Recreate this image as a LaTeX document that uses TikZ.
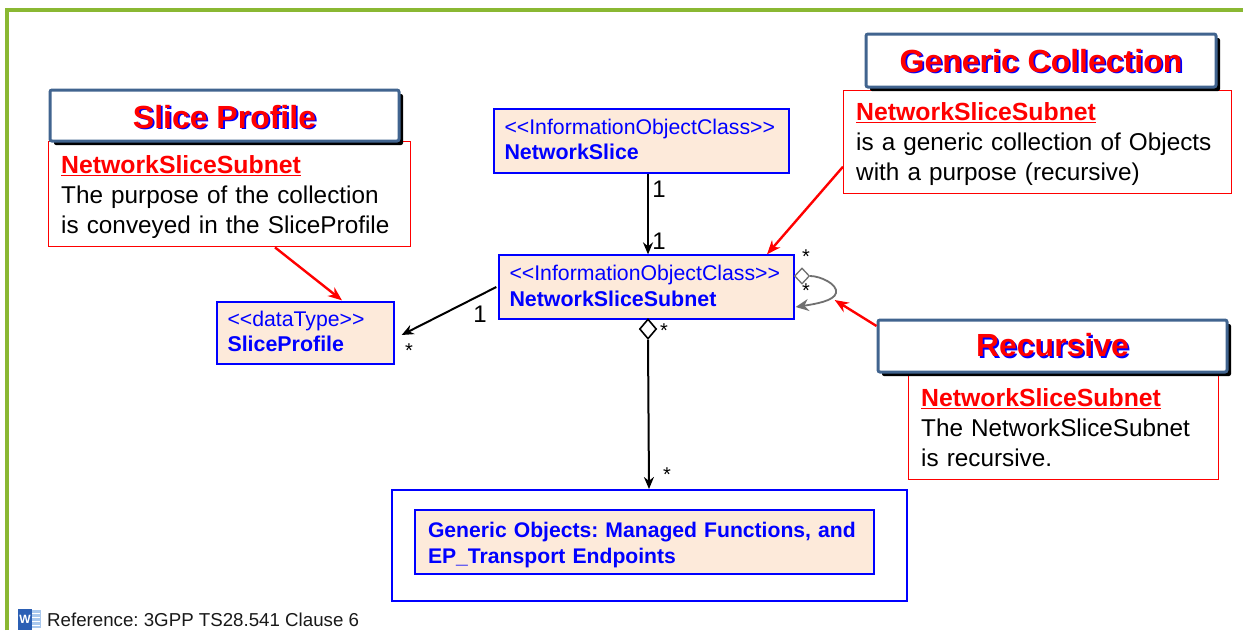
\documentclass[tikz,border=0pt]{standalone}
\usepackage{fontspec}
\setmainfont{Liberation Sans}
\usetikzlibrary{arrows.meta,shapes.geometric,shadows,calc}
\definecolor{framegreen}{HTML}{8AB832}
\definecolor{titleblue}{HTML}{41648F}
\definecolor{classfill}{HTML}{FDEADA}
\definecolor{loopgrey}{HTML}{707070}
\definecolor{wordblue}{HTML}{2B5FB4}
\definecolor{wordlight}{HTML}{A9C8EE}
\newcommand{\shadowed}[1]{\makebox[0pt][l]{\hspace{1.8pt}\raisebox{-1.8pt}{\color{blue}#1}}{\color{red}#1}}
\newcommand{\redhead}[2]{{\fontsize{24.8}{30}\selectfont\color{red}\bfseries\underline{#2}}\rule{0pt}{#1}\\}
\newcommand{\ltlt}{<{}<}
\newcommand{\gtgt}{>{}>}
\newcommand{\boldname}[2]{{\fontsize{21.4}{25.5}\selectfont\bfseries #2}\rule[-#1]{0pt}{#1}}
\tikzset{
  every node/.style={font=\fontsize{24.3}{30}\selectfont\frenchspacing},
  titlebox/.style={draw=titleblue,line width=3pt,rounded corners=2pt,fill=white,inner sep=0pt,
    drop shadow={shadow xshift=4pt,shadow yshift=-4pt,fill=black,opacity=1},
    font=\fontsize{32}{36}\selectfont\bfseries\frenchspacing},
  notebox/.style={draw=red,line width=1.4pt,fill=white,inner xsep=12.5pt,inner ysep=0pt,align=left,anchor=north west,
    font=\fontsize{24.3}{30}\selectfont\frenchspacing},
  classbox/.style={draw=blue,line width=1.3pt,fill=classfill,text=blue,inner xsep=10.5pt,inner ysep=0pt,align=left,
    font=\fontsize{21.25}{25.5}\selectfont\frenchspacing},
  assoc/.style={draw=black,line width=2pt,-{Stealth[length=12pt,width=10pt]}},
  callout/.style={draw=red,line width=2.4pt,-{Stealth[length=14pt,width=11pt]}},
  lbl/.style={inner sep=0pt,font=\fontsize{24}{26}\selectfont},
  star/.style={inner sep=0pt,font=\fontsize{20}{22}\selectfont},
  aggr/.style={diamond,draw=black,fill=white,line width=1.6pt,inner sep=0pt,minimum width=17pt,minimum height=20pt,aspect=1}
}
\begin{document}
\begin{tikzpicture}[x=1pt,y=-1pt]
\useasboundingbox (0,0) rectangle (1243,630);
\fill[white] (0,0) rectangle (1243,630);
\draw[framegreen,line width=4pt] (7,630) -- (7,10) -- (1243,10);

% notes
\node[notebox,minimum width=362pt,minimum height=105pt,text width=337pt] (noteSP) at (48,141)
  {\redhead{24pt}{NetworkSliceSubnet}The purpose of the collection\\is conveyed in the SliceProfile};
\node[notebox,minimum width=388pt,minimum height=103pt,text width=363pt] (noteGC) at (843,90)
  {\redhead{22pt}{NetworkSliceSubnet}is a generic collection of Objects\\with a purpose (recursive)};
\node[notebox,minimum width=310pt,minimum height=104pt,text width=285pt] (noteR) at (908,375)
  {\redhead{0pt}{NetworkSliceSubnet}The NetworkSliceSubnet\\is recursive.};

% titles
\node[titlebox,minimum width=349pt,minimum height=51pt,text height=27.3pt] (titleSP) at (224.5,115.5) {\shadowed{Slice Profile}};
\node[titlebox,minimum width=350pt,minimum height=53pt,text height=25.3pt] (titleGC) at (1041,60.5) {\shadowed{Generic Collection}};
\node[titlebox,minimum width=349pt,minimum height=52pt] (titleR) at (1052.5,346) {\shadowed{Recursive}};

% classes
\node[classbox,minimum width=295pt,minimum height=64pt,text width=274pt] (ns) at (641.5,141)
  {\ltlt InformationObjectClass\gtgt\\\boldname{3pt}{NetworkSlice}};
\node[classbox,minimum width=295pt,minimum height=64pt,text width=274pt] (nss) at (646.5,287)
  {\ltlt InformationObjectClass\gtgt\\\boldname{2pt}{NetworkSliceSubnet}};
\node[classbox,minimum width=177pt,minimum height=62pt,text width=156pt] (sp) at (305.5,333)
  {\ltlt dataType\gtgt\\\boldname{3pt}{SliceProfile}};
\node[draw=blue,line width=2pt,fill=white,minimum width=515pt,minimum height=111pt,inner sep=0pt] (outer) at (649.5,545.5) {};
\node[classbox,minimum width=459pt,minimum height=64pt,inner xsep=13pt,text width=433pt,font=\fontsize{21.15}{25.5}\selectfont\bfseries\frenchspacing] (gen) at (644.5,542)
  {Generic Objects: Managed Functions, and\rule{0pt}{21.5pt}\\EP\_Transport Endpoints};

% connectors
\draw[assoc] ([xshift=6.5pt]ns.south) -- ([xshift=1.5pt]nss.north);
\draw[assoc] ([xshift=-2pt]nss.west) -- ([xshift=7pt,yshift=-2pt]sp.east);
\node[aggr] (dia) at (648,329) {};
\draw[assoc] (dia.south) -- ([xshift=-0.5pt]outer.north);
\node[aggr,draw=loopgrey,line width=1.3pt,minimum width=15pt,minimum height=16pt] (loopd) at (802,276) {};
\coordinate (loopend) at ($(nss.east)+(1,20)$);
\draw[loopgrey,line width=1.8pt,-{Stealth[length=13pt,width=12pt]}] (loopd.east)
  .. controls (820,276) and (838,284) .. (836,293)
  .. controls (834,301) and (815,304) .. (loopend);

\draw[callout] ($(noteSP.south west)+(227,0)$) -- ($(sp.north)+(36.5,-1)$);
\draw[callout] ($(noteGC.west)+(0,24.5)$) -- ($(nss.north)+(120.5,0)$);
\draw[callout] (titleR.west|-326,326) -- ($(nss.east)+(40,13)$);

% multiplicities
\node[lbl] (m1) at (659,189) {1};
\node[lbl] (m2) at (659,241) {1};
\node[lbl] (m3) at (480,314) {1};
\node[star] (s1) at (409,351) {*};
\node[star] (s2) at (806,257) {*};
\node[star] (s3) at (806,291) {*};
\node[star] (s4) at (664,331) {*};
\node[star] (s5) at (667,475) {*};

% footer
\fill[wordlight] (28,610) rectangle (41,628);
\foreach \yy in {613,617,621,625} \draw[white,line width=1pt] (31,\yy) -- (40,\yy);
\node[fill=wordblue,text=white,minimum width=14pt,minimum height=21pt,inner sep=0pt,font=\fontsize{12}{12}\selectfont\bfseries] (wicon) at (25,619) {W};
\node[anchor=base west,inner sep=0pt,font=\fontsize{18.7}{20}\selectfont\frenchspacing,text=black!90] (ref) at (47,626) {Reference: 3GPP TS28.541 Clause 6};
\end{tikzpicture}
\end{document}
